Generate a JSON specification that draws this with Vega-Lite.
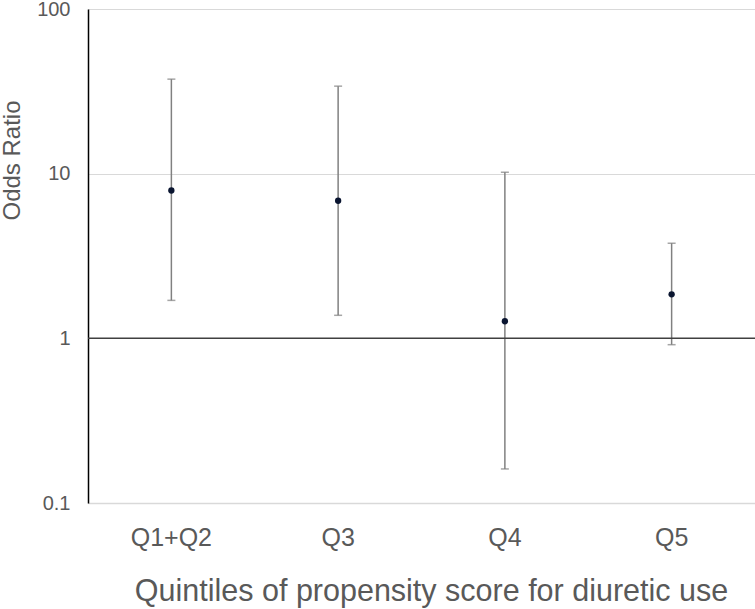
{
  "$schema": "https://vega.github.io/schema/vega-lite/v6.json",
  "width": 667,
  "height": 494,
  "autosize": {"type": "none"},
  "padding": {"left": 88, "top": 9, "right": 0, "bottom": 106},
  "background": "white",
  "config": {
    "view": {"stroke": null},
    "font": "Liberation Sans"
  },
  "data": {
    "values": [
      {"group": "Q1+Q2", "or": 7.9, "lo": 1.7, "hi": 37.5},
      {"group": "Q3", "or": 6.85, "lo": 1.38, "hi": 34.0},
      {"group": "Q4", "or": 1.27, "lo": 0.161, "hi": 10.2},
      {"group": "Q5", "or": 1.85, "lo": 0.915, "hi": 3.78}
    ]
  },
  "encoding": {
    "x": {
      "field": "group",
      "type": "nominal",
      "sort": null,
      "scale": {"paddingInner": 0, "paddingOuter": 0},
      "axis": {
        "title": "Quintiles of propensity score for diuretic use",
        "labelAngle": 0,
        "labelFontSize": 25,
        "labelColor": "#595959",
        "labelPadding": 22,
        "ticks": false,
        "domainColor": "#d9d9d9",
        "domainWidth": 1.5,
        "titleFontSize": 30.5,
        "titleFontWeight": "normal",
        "titleColor": "#595959",
        "titleBaseline": "alphabetic",
        "titleY": 97,
        "titleX": 343
      }
    }
  },
  "layer": [
    {
      "mark": {"type": "rule", "color": "#808080", "strokeWidth": 1.5},
      "encoding": {
        "y": {
          "field": "lo",
          "type": "quantitative",
          "scale": {"type": "log", "domain": [0.1, 100]},
          "axis": {
            "title": "Odds Ratio",
            "values": [0.1, 1, 10, 100],
            "format": "~g",
            "labelFontSize": 20,
            "labelColor": "#595959",
            "labelPadding": 18,
            "ticks": false,
            "grid": true,
            "gridColor": "#d9d9d9",
            "gridWidth": 1.2,
            "domainColor": "#000000",
            "domainWidth": 1.5,
            "titleFontSize": 24,
            "titleFontWeight": "normal",
            "titleColor": "#595959",
            "titleX": -64,
            "titleY": 151
          }
        },
        "y2": {"field": "hi"}
      }
    },
    {
      "mark": {"type": "tick", "color": "#808080", "size": 8, "thickness": 1.5, "orient": "horizontal"},
      "encoding": {"y": {"field": "lo", "type": "quantitative"}}
    },
    {
      "mark": {"type": "tick", "color": "#808080", "size": 8, "thickness": 1.5, "orient": "horizontal"},
      "encoding": {"y": {"field": "hi", "type": "quantitative"}}
    },
    {
      "data": {"values": [{"ref": 1}]},
      "mark": {"type": "rule", "color": "#404040", "strokeWidth": 1.5},
      "encoding": {"y": {"field": "ref", "type": "quantitative"}, "x": null}
    },
    {
      "mark": {"type": "point", "filled": true, "color": "#0a1530", "size": 40, "opacity": 1},
      "encoding": {"y": {"field": "or", "type": "quantitative"}}
    }
  ]
}
